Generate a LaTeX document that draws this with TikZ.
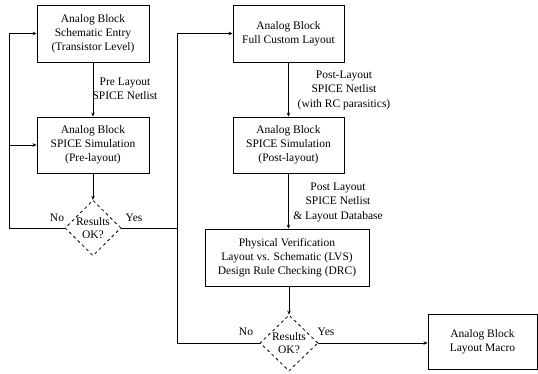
\documentclass[tikz,border=0pt]{standalone}
\usepackage{fontspec}
\setmainfont{Liberation Serif}
\usetikzlibrary{shapes.geometric,arrows.meta}
\begin{document}
\begin{tikzpicture}[x=1pt,y=-1pt,
  box/.style={draw,line width=0.9pt,align=center,inner sep=0pt,font=\fontsize{11.5}{14}\selectfont},
  dec/.style={draw,dashed,line width=0.8pt,diamond,inner sep=0pt,align=center,font=\fontsize{11.5}{13.5}\selectfont},
  lab/.style={align=center,inner sep=0pt,font=\fontsize{11.5}{14.5}\selectfont},
  yn/.style={inner sep=0pt,font=\fontsize{11.5}{13}\selectfont},
  conn/.style={line width=0.8pt},
  arr/.style={conn,-{Stealth[length=4pt,width=3.5pt]}}]
\useasboundingbox (0,0) rectangle (538,374);
\node[box,minimum width=112pt,minimum height=57pt] (b1) at (93,33.5) {Analog Block\\Schematic Entry\\(Transistor Level)};
\node[box,minimum width=112pt,minimum height=56pt] (b2) at (93,145) {Analog Block\\SPICE Simulation\\(Pre-layout)};
\node[dec,minimum width=56pt,minimum height=54pt] (d1) at (93,228) {Results\\OK?};
\node[box,minimum width=111pt,minimum height=57pt] (b3) at (288.5,33.5) {Analog Block\\Full Custom Layout};
\node[box,minimum width=111pt,minimum height=56pt] (b4) at (288.5,145) {Analog Block\\SPICE Simulation\\(Post-layout)};
\node[box,minimum width=164pt,minimum height=57pt] (b5) at (287,257.5) {Physical Verification\\Layout vs. Schematic (LVS)\\Design Rule Checking (DRC)};
\node[dec,minimum width=58pt,minimum height=56pt] (d2) at (289,343) {Results\\OK?};
\node[box,minimum width=109pt,minimum height=55pt] (b6) at (482.5,341.5) {Analog Block\\Layout Macro};
\coordinate (c1) at (9,228);
\coordinate (c2) at (9,33.5);
\coordinate (c3) at (9,145);
\coordinate (c4) at (177,228);
\coordinate (c5) at (177,343);
\coordinate (c6) at (177,33.5);
\draw[arr] (b1) -- (b2);
\draw[arr] (b2) -- (d1);
\draw[arr] (b3) -- (b4);
\draw[arr] (b4.south) -- (b4.south |- b5.north);
\draw[arr] (b5.south -| d2.north) -- (d2);
\draw[arr] (d2) -- (d2.east -| b6.west);
\draw[arr] (d1.west) -- (c1) -- (c2) -- (b1.west);
\draw[arr] (c3) -- (b2.west);
\draw[conn] (d1.east) -- (c4);
\draw[arr] (d2.west) -- (c5) -- (c6) -- (b3.west);
\node[lab] (l1) at (125,89) {Pre Layout\\SPICE Netlist};
\node[lab] (l2) at (344,90) {Post-Layout\\SPICE Netlist\\(with RC parasitics)};
\node[lab] (l3) at (338,202) {Post Layout\\SPICE Netlist\\\& Layout Database};
\node[yn] (n1) at (57,218) {No};
\node[yn] (y1) at (134,218) {Yes};
\node[yn] (n2) at (246,332) {No};
\node[yn] (y2) at (326,332) {Yes};
\end{tikzpicture}
\end{document}
